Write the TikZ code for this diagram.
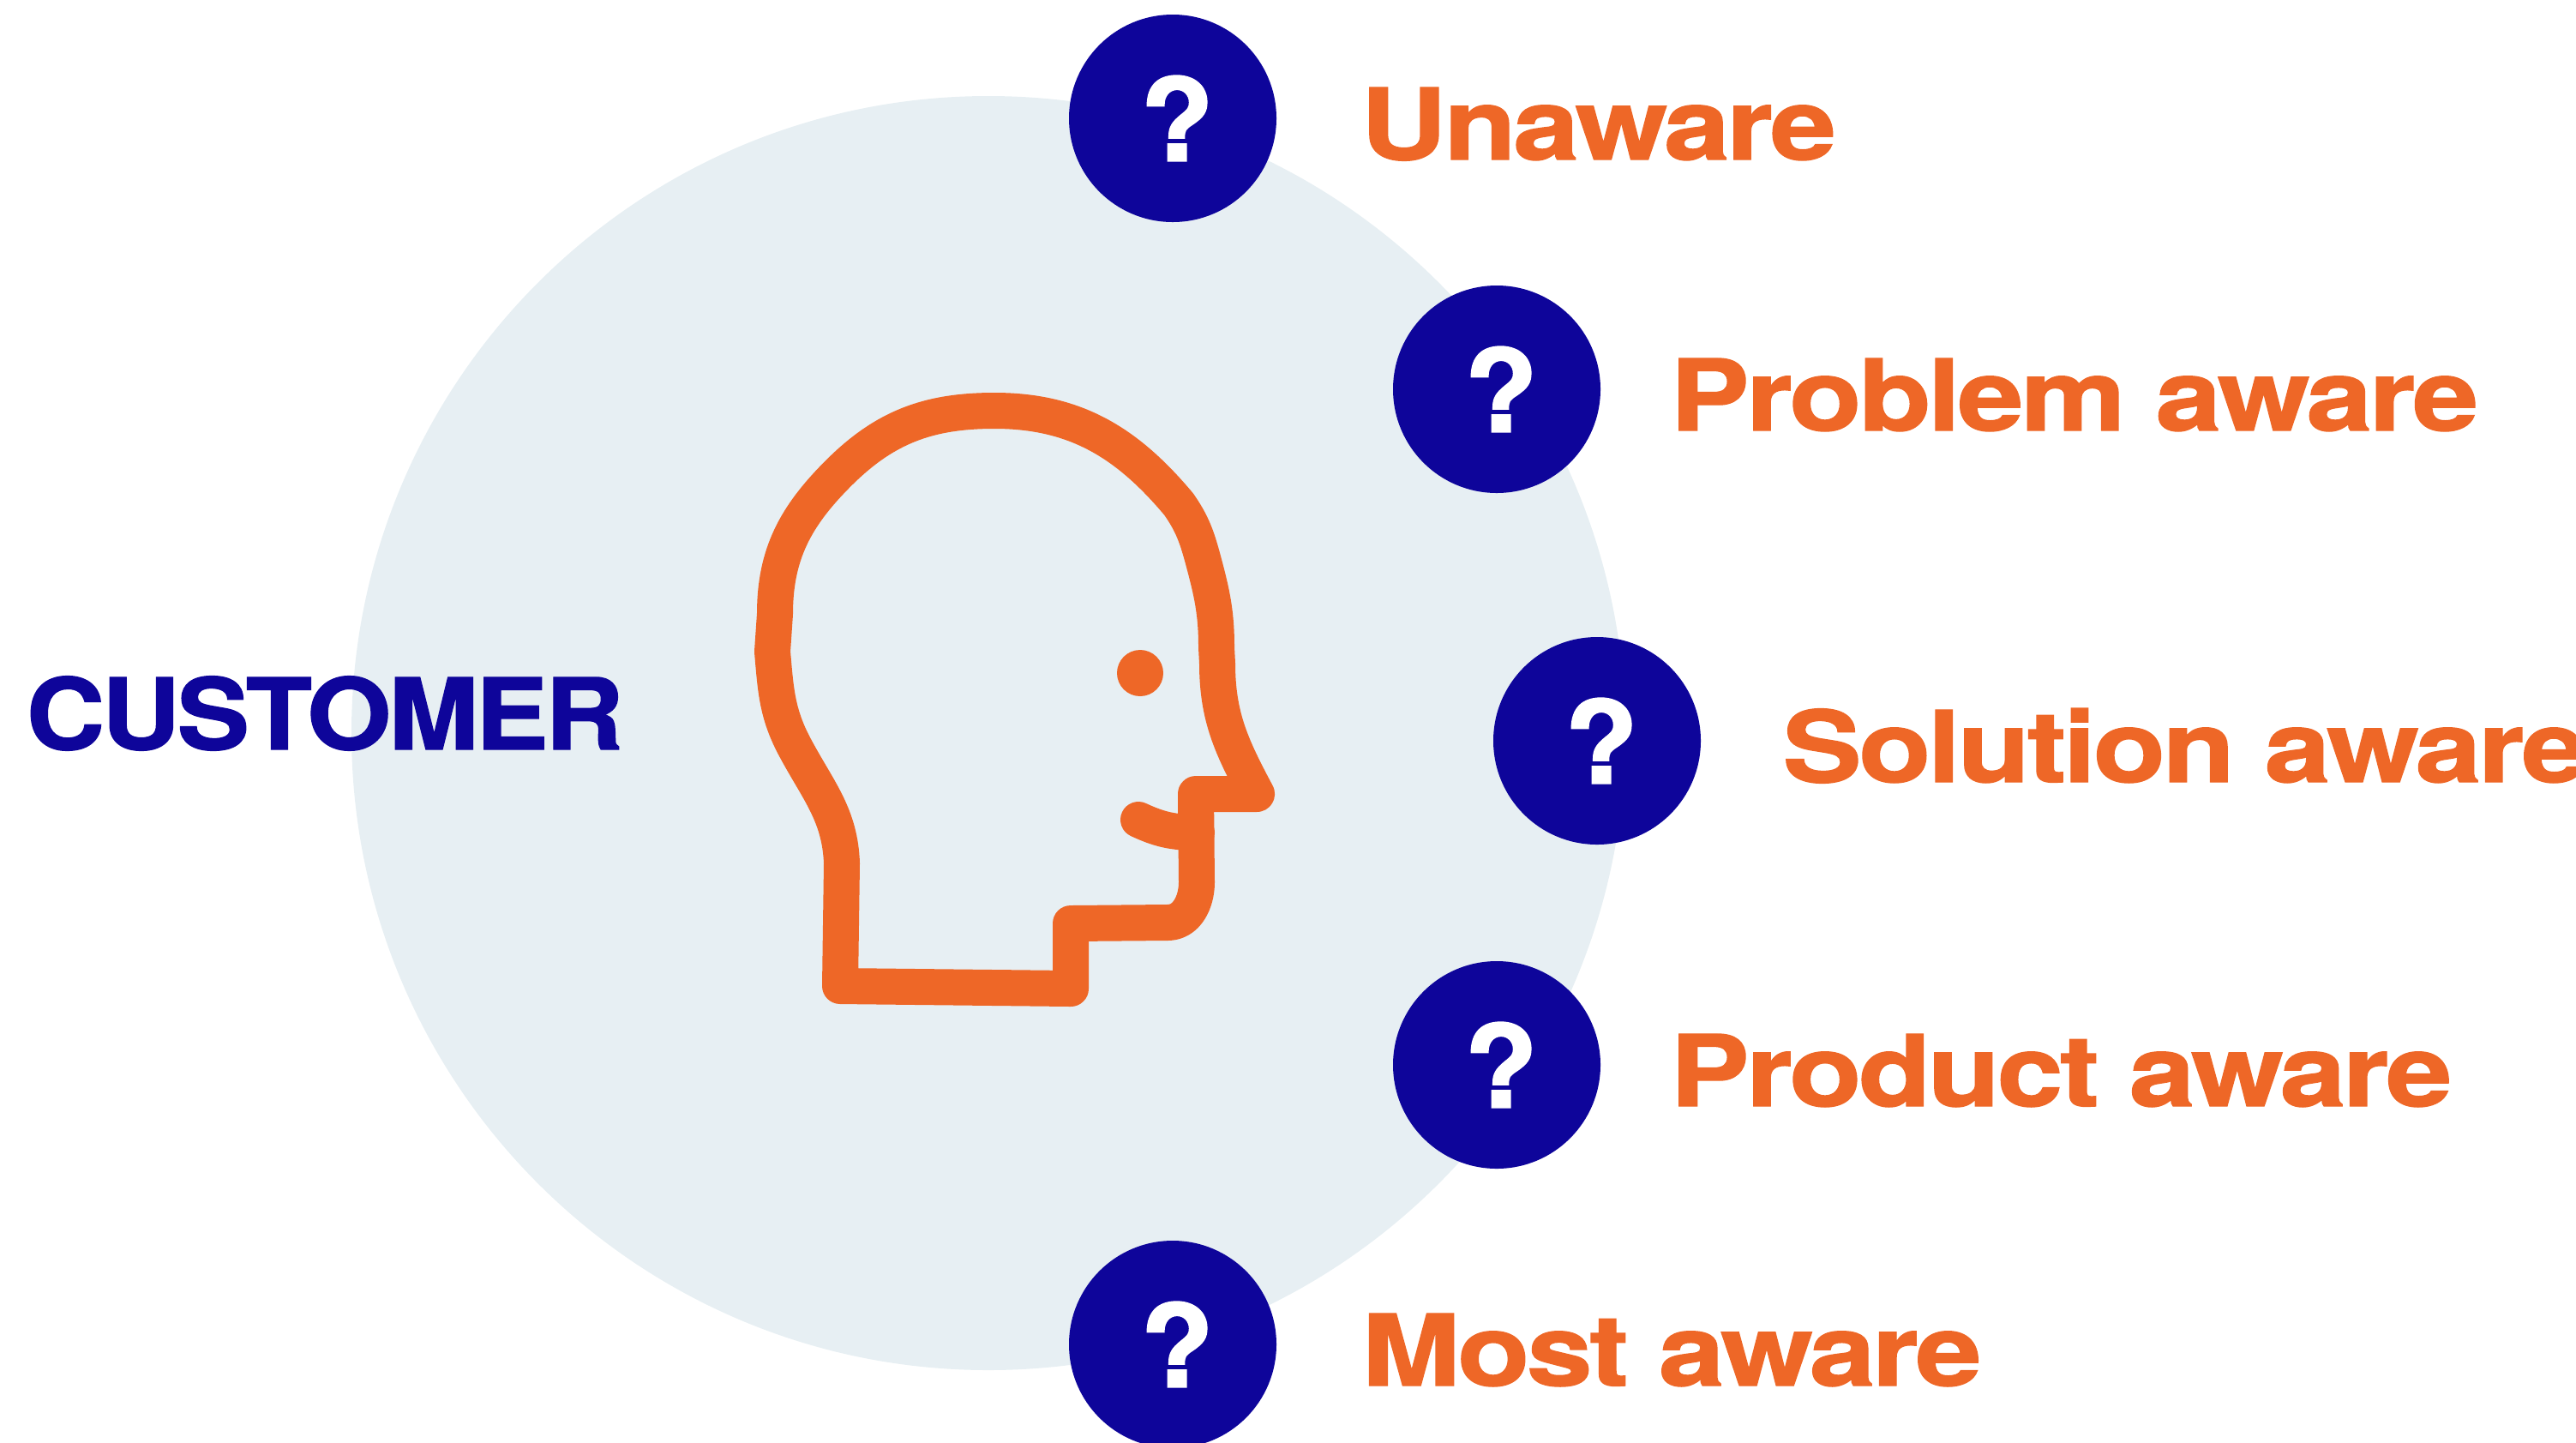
\documentclass[tikz,border=0pt]{standalone}
\usepackage{fontspec}
\usepackage{tikz}
\usetikzlibrary{positioning}
\newfontfamily\stagefont[BoldFeatures={FakeStretch=1.2,FakeBold=1.2,LetterSpace=-3.2}]{TeX Gyre Heros}
\newfontfamily\titlefont[BoldFeatures={FakeStretch=1.1,FakeBold=1.2,LetterSpace=-3.2}]{TeX Gyre Heros}
\newfontfamily\markfont[BoldFeatures={FakeStretch=1.05,FakeBold=1.5}]{TeX Gyre Heros}
\definecolor{blue}{RGB}{14, 5, 154}
\definecolor{orange}{RGB}{238, 103, 39}
\definecolor{mist}{RGB}{231, 239, 243}
\tikzstyle{disc} = [circle, draw=none, fill=mist, inner sep=0pt, minimum size = 14.86cm]
\tikzstyle{qmark} = [circle, draw=none, fill=blue, text=white, inner sep=0pt, font=\markfont\bfseries\fontsize{38}{38}\selectfont, minimum size = 2.42cm]
\tikzstyle{stage} = [draw=none, fill=none, text=orange, inner sep=0pt, text height=0.83cm, text depth=0pt, yshift=-0.065cm, font=\stagefont\bfseries\fontsize{32.8}{36}\selectfont]
\tikzstyle{title} = [draw=none, fill=none, text=blue, inner sep=0pt, text height=0.83cm, text depth=0pt, font=\titlefont\bfseries\fontsize{32.8}{36}\selectfont]
\tikzstyle{head} = [draw=orange, line width=0.42cm, line join=round, line cap=round]
\tikzstyle{eyedot} = [circle, draw=none, fill=orange, inner sep=0pt, minimum size = 0.54cm]

\begin{document}
\begin{tikzpicture}
\useasboundingbox (0,0) rectangle (30.05,-16.82);

% background disc =============================
\node[disc] (back) at (11.53,-8.55) {};
\node[title, anchor=west] (customer) at (0.30,-8.325) {CUSTOMER};

% head outline
\draw[head] (9.80,-11.50) -- (9.82,-10.07) to [out=92,in=-62] (9.27,-8.71)
  to [out=118,in=-85] (9.01,-7.60) -- (9.04,-7.16)
  to [out=90,in=-135] (9.78,-5.52) to [out=45,in=180] (11.60,-4.79)
  to [out=0,in=130] (13.75,-5.88)
  to [out=-55,in=105] (14.04,-6.55) to [out=-75,in=90] (14.19,-7.55) -- (14.20,-7.74)
  to [out=-90,in=118] (14.66,-9.26) -- (13.95,-9.26) -- (13.96,-10.29)
  to [out=-90,in=0] (13.62,-10.76) -- (12.49,-10.77) -- (12.49,-11.53) -- cycle;
\draw[head] (13.28,-9.56) to [out=-25,in=180] (13.96,-9.71);
\node[eyedot] (eye) at (13.30,-7.85) {};

% awareness stages
\node[qmark] (unaware) at (13.68,-1.38) {\hspace{0.1cm}?};
\node[qmark] (problem) at (17.46,-4.54) {\hspace{0.1cm}?};
\node[qmark] (solution) at (18.63,-8.64) {\hspace{0.1cm}?};
\node[qmark] (product) at (17.46,-12.42) {\hspace{0.1cm}?};
\node[qmark] (most) at (13.68,-15.68) {\hspace{0.1cm}?};

\node[stage, right=0.97cm of unaware] (unawaretext) {Unaware};
\node[stage, right=0.80cm of problem] (problemtext) {Problem aware};
\node[stage, right=0.94cm of solution] (solutiontext) {Solution aware};
\node[stage, right=0.80cm of product] (producttext) {Product aware};
\node[stage, right=0.98cm of most] (mosttext) {Most aware};

\end{tikzpicture}
\end{document}
